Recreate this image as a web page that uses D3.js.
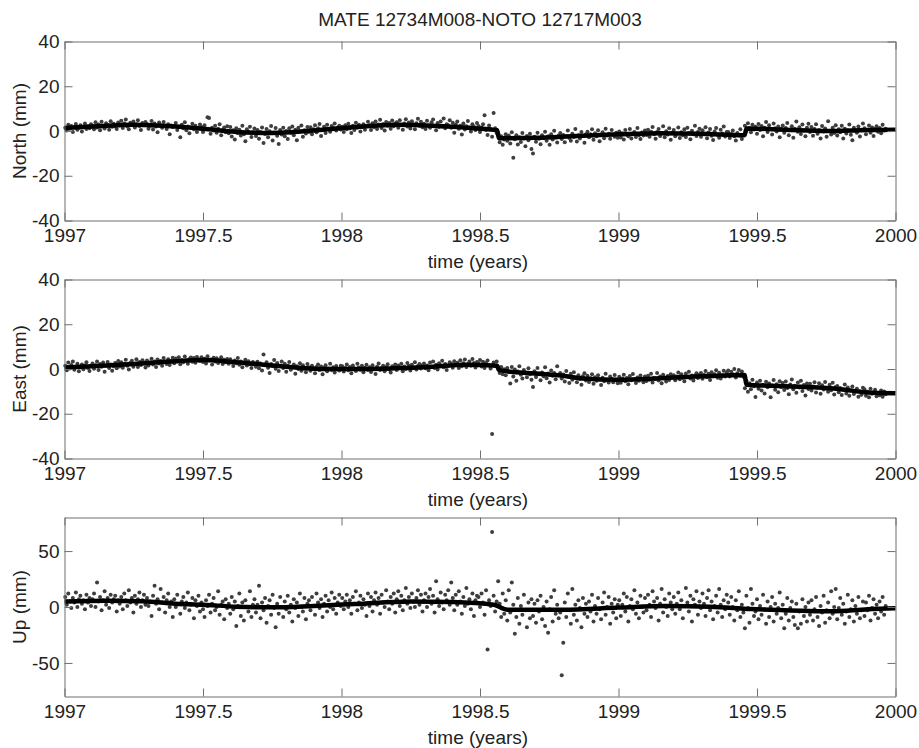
<!DOCTYPE html>
<html>
<head>
<meta charset="utf-8">
<script src="https://cdn.jsdelivr.net/npm/d3@7"></script>
<style>
  body { margin: 0; background: #fff; }
  svg { display: block; font-family: "Liberation Sans", Arial, sans-serif; }
</style>
</head>
<body>
<div id="chart"></div>
<script>
// ---- data (mm), one value every second day; null = no solution ----
const years = [1997, 1998, 1999];

const north1997 = [
  1.5, 0.2, 2.8, 1.0, 2.2, -0.5, 1.8, 3.1, 0.6, 1.4, 2.6, -0.2, 1.9, 3.4, 0.9, 2.1, 1.2, 3.0,
  2.4, 0.8, 3.9, 1.6, 2.9, 0.3, 4.1, 2.2, 1.1, 3.5, 2.7, 0.6, 4.4, 1.9, 3.2, 2.0, 0.9, 3.8,
  2.5, 4.6, 1.3, 3.3, 5.1, 2.0, 0.8, 3.7, 2.9, 4.2, 1.6, 3.0, 4.8, 2.2, 0.5, 3.6, 2.7, 4.0,
  3.1, 1.0, 2.4, 4.5, 0.7, 3.3, 2.0, -0.6, 3.8, 2.6, 1.4, 4.0, 2.2, 0.9, 3.0, -1.5, 2.5, 1.8,
  2.2, 3.6, 0.5, 1.9, -2.8, 2.8, 1.2, 3.9, 0.3, 2.0, -1.0, 1.5, 3.2, 0.8, 2.4, -0.4, 1.1, 2.9,
  1.8, -0.5, 2.6, 0.9, 6.2, 5.8, -1.2, 1.5, 0.2, 2.3, -0.8, 1.0, 3.0, -1.9, 0.4, 1.6, -0.6, 2.1,
  -1.0, 1.8, -2.5, 0.3, -3.8, 1.2, -0.9, 0.6, -2.0, 2.4, -1.4, -4.6, 0.8, -0.3, 1.9, -2.7, -0.6, 1.1,
  -2.2, 0.5, -3.5, -0.4, 1.6, -5.4, -1.3, 0.9, -2.8, -0.1, 2.2, -4.2, -0.7, 1.3, -2.1, -5.8, 0.4, -1.6,
  1.5, -2.4, 0.0, -3.6, 1.2, -0.8, 2.0, -1.9, 0.6, -4.1, 1.4, -0.2, 2.5, -2.6, 0.3, -1.1, 1.8, -0.5,
  1.7, -1.5, 0.8, 2.6, -0.6, 1.2, 3.1, -2.2, 0.5, 1.9, -0.9, 2.8, 0.9, -0.3, 2.2, 1.4, 3.3, 0.2, 1.6, 2.4, 0.7
];
const north1998 = [
  1.9, -0.4, 2.6, 0.8, 3.2, 1.1, -0.9, 2.3, 0.5, 3.7, 1.4, 2.8, -0.2, 1.8, 3.0, 0.6, 2.2, 4.1,
  2.6, 0.4, 3.5, 1.7, 4.3, 0.9, 2.9, 5.0, 1.3, 3.1, 0.2, 4.0, 2.4, 3.6, 1.0, 4.7, 2.1, 3.3,
  3.9, 1.5, 4.8, 2.7, 0.6, 3.4, 5.2, 2.0, 3.8, 1.1, 4.4, 2.9, 0.8, 3.5, 5.5, 2.3, 4.1, 1.7,
  3.2, 0.9, 4.6, 2.5, 1.4, 3.9, 5.1, 2.2, 0.3, 3.6, 1.8, 4.3, 2.0, 5.6, 1.2, 3.0, 2.6, 4.8,
  1.5, 3.7, -0.8, 2.9, 4.2, 1.0, 2.4, -1.6, 3.4, 0.7, 2.1, 4.5, 1.6, -0.2, 3.0, 1.9, 0.4, 3.6,
  2.2, -0.5, 1.6, 3.0, 7.0, 0.4, -1.8, 2.5, 0.9, -2.6, 8.0, 1.2, -0.9, -1.0, -5.0, -2.4, -6.2, -3.8,
  -1.5, -4.4, -2.0, -5.6, -0.6, -12.0, -3.7, -1.9, -6.0, -2.8, -4.9, -0.9, -3.3, -6.8, -2.2, -4.1, -1.2, -8.0,
  -10.0, -2.6, -4.8, -0.8, -3.5, -5.9, -1.9, -3.1, -0.3, -4.4, -2.4, -6.2, -1.5, -3.8, 0.1, -2.9, -5.1, -2.0,
  -0.9, -3.6, -1.8, -5.0, -2.4, 0.2, -3.1, -4.4, -1.2, -2.7, 0.9, -4.7, -1.9, -3.3, -0.5, -2.2, -5.3, -1.4,
  -0.3, -2.8, -1.5, 0.8, -3.9, -1.0, -2.3, 0.3, -4.6, -1.8, -0.6, -3.2, 1.0, -2.0, -1.2, -3.5, 0.4, -1.7, -2.6, -0.8, -3.0
];
const north1999 = [
  -0.2, -2.9, -1.0, -3.8, 0.5, -1.6, -2.4, 0.9, -3.3, -1.1, -0.4, -2.7, 1.3, -1.9, -3.6, -0.7, -2.0, 0.2,
  -1.8, 0.6, -2.6, -0.3, 1.8, -1.4, -3.5, -0.5, 0.9, -2.2, -1.0, 2.1, -2.8, -0.1, -1.6, 1.2, -3.9, -0.8,
  0.4, -2.4, -1.2, 1.6, -3.1, -0.6, -1.9, 0.8, -2.7, 1.4, -0.9, -3.7, 0.1, -1.5, 2.4, -2.2, -0.4, 1.0,
  -2.6, 0.3, -1.4, 1.7, -3.2, -0.7, 0.9, -2.1, -4.0, -0.2, 1.3, -1.8, -3.0, 0.6, -1.1, 2.0, -2.5, -0.5,
  -0.4, -3.1, -1.3, 0.2, -2.4, -4.3, -0.9, -2.0, 0.8, -3.6, -1.7, 2.4, 0.1, 3.5, 1.3, -0.6, 2.8, 0.7,
  1.9, -1.2, 3.1, 0.4, 2.2, -2.3, 1.5, 4.0, -0.4, 2.6, 0.9, -1.6, 3.4, 1.2, -0.2, 2.0, -2.8, 1.0,
  2.5, -0.8, 1.3, 3.6, -1.9, 0.6, 2.1, -3.0, 1.0, 4.3, -0.3, 1.7, -1.3, 2.9, 0.2, -2.4, 1.5, 3.2,
  -0.5, 1.8, -2.1, 0.9, 3.0, -1.2, 0.4, -3.3, 2.2, -0.2, 1.1, -2.6, 4.4, 0.0, -1.6, 1.4, -0.9, 2.6,
  -2.0, 0.8, -0.6, 2.3, -3.4, 1.0, -1.1, 0.3, 2.9, -1.7, -4.1, 1.5, 0.1, -0.8, 2.0, -2.5, 0.6, 3.3,
  1.2, -1.4, 0.4, 2.5, -0.8, 1.6, -2.2, 0.9, 2.1, -0.3, 1.3, -1.0, 2.8, 0.2, 1.0, null, null, null, null, null, null
];

const east1997 = [
  1.5, -0.6, 2.9, 0.2, 1.8, 3.3, -0.3, 1.0, 2.4, -1.0, 0.8, 2.0, -0.1, 1.6, 3.0, 0.4, -0.9, 1.3,
  2.5, 0.1, 1.7, 3.4, -0.5, 2.2, 1.0, 2.9, -1.2, 1.4, 3.1, 0.5, 2.0, -0.8, 1.2, 2.7, 0.3, 3.6,
  1.1, 3.0, 0.6, 2.4, 4.1, 1.5, -0.2, 2.8, 3.7, 1.0, 2.2, 4.4, 0.9, 3.1, 1.8, 3.9, 2.6, 0.7,
  3.8, 1.6, 2.9, 4.6, 2.0, 3.3, 0.9, 4.2, 2.5, 3.6, 1.4, 4.9, 3.0, 2.2, 4.4, 1.8, 3.5, 5.0,
  2.6, 4.7, 3.4, 5.3, 2.1, 4.0, 3.0, 5.6, 3.8, 2.4, 4.5, 5.1, 3.2, 4.9, 2.8, 5.4, 4.2, 3.6,
  5.2, 3.1, 4.6, 2.5, 5.7, 3.8, 4.3, 2.0, 5.0, 3.4, 4.8, 2.7, 3.9, 5.3, 2.2, 4.1, 3.0, 4.5,
  2.4, 4.4, 3.0, 1.3, 3.8, 2.6, 4.9, 1.9, 3.3, 0.8, 2.8, 4.1, 1.6, 3.5, 2.2, 0.5, 3.1, 2.0,
  1.0, 3.2, 0.3, 2.5, -0.7, 6.5, 1.8, 3.0, 0.6, -1.8, 2.2, 1.3, 4.0, 0.1, 2.7, -0.9, 1.5, 3.4,
  0.4, 2.3, -1.2, 1.5, 3.1, -0.3, 0.9, 2.0, -2.1, 1.2, 0.0, 2.6, -0.8, 1.7, 0.5, -1.5, 2.2, 0.8,
  -0.8, 1.4, 0.3, -1.9, 0.9, 2.0, -0.5, 1.1, -2.3, 0.6, 1.7, -1.0, 0.2, 2.4, -0.4, 0.8, -1.6, 1.3, 0.0, -0.7, 1.5
];
const east1998 = [
  1.2, -1.1, 0.5, 2.0, -0.6, 0.9, -1.9, 1.6, 0.2, -0.9, 2.3, 0.7, -0.3, 1.4, -1.5, 0.6, 1.9, -0.4,
  0.8, -1.3, 1.7, 0.1, -2.2, 1.0, 2.5, -0.5, 0.4, 1.5, -1.0, 0.9, 2.1, -0.2, -1.6, 1.2, 0.3, 2.0,
  -0.4, 1.6, 0.5, 2.4, -1.0, 1.1, 0.0, 2.7, 1.4, -0.7, 1.9, 0.6, 3.0, -0.2, 1.3, 2.2, 0.2, 1.7,
  2.5, 0.3, 1.6, -0.6, 2.9, 1.0, 3.3, 0.5, 1.9, -0.2, 2.6, 1.3, 3.7, 0.8, 2.2, -0.4, 1.5, 3.0,
  2.3, 0.6, 3.5, 1.8, 2.8, 0.4, 3.9, 1.2, 2.6, 4.2, 0.9, 2.1, 3.3, 1.5, 4.5, 2.7, 0.7, 3.1,
  2.4, 4.0, 1.1, 3.2, 0.5, 2.7, 3.8, 1.6, 0.2, -29.0, 2.9, 1.3, 3.4, 0.6, -1.8, 0.9, -2.4, -0.1,
  -2.8, 0.4, -1.5, -6.5, 0.9, -3.4, -0.2, -5.2, -1.1, 1.2, -2.6, -4.3, -0.5, -1.9, -3.7, 0.3, -2.3, -4.8,
  -8.0, -1.0, -3.6, 0.5, -2.4, -5.0, -1.6, -3.2, 0.8, -4.1, -2.0, -6.0, -0.7, -3.0, -1.8, -4.6, 1.2, -2.9,
  -1.8, -4.2, -2.5, -5.6, -0.9, -3.4, -6.3, -2.1, -4.8, -1.4, -3.9, -5.9, -2.8, -4.5, -7.0, -3.2, -1.9, -5.1,
  -3.0, -5.8, -4.1, -2.4, -6.6, -3.7, -5.2, -2.8, -4.6, -7.1, -3.9, -5.5, -2.1, -4.8, -6.0, -3.4, -4.4, -5.9, -2.7, -4.9, -6.4
];
const east1999 = [
  -3.5, -6.1, -4.3, -2.6, -5.5, -4.0, -6.8, -3.1, -5.0, -2.2, -4.6, -6.3, -3.8, -5.2, -2.9, -4.4, -5.9, -3.3,
  -5.4, -3.0, -4.8, -2.1, -6.0, -3.9, -4.5, -1.8, -5.1, -3.4, -6.4, -2.6, -4.2, -5.6, -3.1, -4.9, -2.3, -3.7,
  -2.8, -5.0, -3.3, -1.6, -4.6, -2.4, -3.9, -5.5, -2.0, -3.6, -1.2, -4.3, -2.9, -5.1, -3.0, -1.9, -4.0, -2.5,
  -1.8, -4.4, -2.6, -0.9, -3.7, -2.1, -4.9, -1.4, -3.2, -2.3, -0.6, -3.9, -1.7, -4.2, -2.8, -0.8, -3.4, -1.5,
  -0.7, -3.3, -1.2, -2.4, 0.0, -3.8, -1.9, -0.4, -2.9, -1.1, -3.5, -8.6, -5.3, -10.2, -6.4, -9.1, -4.8, -7.7,
  -12.5, -6.0, -8.8, -5.2, -9.6, -7.0, -11.0, -5.7, -8.2, -6.5, -12.6, -7.4, -4.9, -9.3, -6.8, -10.4, -5.5, -8.0,
  -6.3, -9.4, -5.6, -8.5, -11.3, -6.9, -4.7, -9.0, -7.5, -10.6, -6.0, -8.3, -5.3, -9.8, -7.1, -11.8, -6.5, -8.9,
  -6.6, -9.6, -7.8, -5.9, -10.5, -8.3, -6.4, -11.1, -7.3, -9.2, -5.8, -8.8, -10.2, -7.0, -9.5, -6.2, -11.4, -8.1,
  -7.6, -10.4, -8.5, -11.6, -9.2, -6.9, -10.9, -8.3, -12.0, -9.6, -7.8, -11.2, -10.0, -8.8, -12.4, -9.9, -11.5, -8.4,
  -9.0, -11.9, -10.2, -12.6, -8.8, -11.1, -10.5, -9.3, -12.2, -10.8, -11.7, -9.6, -12.4, -10.1, -11.3, null, null, null, null, null, null
];

const up1997 = [
  9, 2, 12, 5, -1, 8, 4, 13, 0, 7, 10, 3, 6, -2, 11, 4, 8, 1,
  7, 12, 0, 22, 5, 9, -3, 6, 14, 2, 8, -1, 11, 4, 7, 10, -4, 6,
  3, 9, -2, 12, 6, 1, 15, 4, 8, -5, 10, 3, 7, 13, 0, 6, 11, 2,
  8, 1, 5, -8, 10, 19, 3, 7, -2, 16, 4, 9, -5, 6, 12, 0, 5, -9,
  7, 0, 11, 3, -6, 5, 9, -1, 4, 13, -3, 2, 8, -10, 6, 1, 10, -4,
  4, -2, -9, 6, 1, 11, -5, 3, 8, -3, 0, 14, -7, 2, 5, -11, 7, -1,
  3, -6, 9, -2, 5, -17, 1, 12, -8, 4, -12, 6, 0, -4, 14, -9, 2, 7,
  -5, 2, 19, -10, 4, -3, 8, -14, 1, 6, -7, 11, -1, -18, 3, -6, 9, 0,
  -9, 5, -2, 10, -5, 2, -13, 7, -1, 4, -8, 12, 0, -4, 8, -11, 3, 6,
  -3, 9, 1, -7, 12, 4, -1, 7, -9, 3, 10, -4, 6, 0, 13, -2, 8, -6, 4, 11, 1
];
const up1998 = [
  8, -2, 5, 11, 0, 6, -6, 9, 3, 14, -3, 4, 10, -1, 7, 2, -8, 12,
  1, 9, -4, 6, 13, 2, 8, -6, 11, 4, 0, 15, 5, -2, 9, 3, 12, -5,
  7, 14, 1, 10, -3, 6, 17, 3, 9, -1, 12, 5, 0, 8, 15, 2, 11, -4,
  6, 12, 0, 9, 16, 3, 10, -5, 23, 7, 1, 13, 4, -2, 11, 6, 15, 2,
  22, 8, -3, 11, 2, 14, 5, -6, 9, 1, 17, 3, 7, -2, 12, -8, 6, 10,
  9, 0, 12, 4, -7, 15, -38, 6, 1, 67, 10, -4, 5, 23, 3, -9, 12, -6,
  6, -12, 15, -5, 22, 2, -24, -9, 8, -15, 1, -7, 11, -3, -18, 4, -10, 7,
  -8, 3, -14, 6, -4, 10, -11, 0, -17, 5, -23, -2, 9, -13, 15, -6, 2, -10,
  -5, -61, -32, 4, -9, 12, -3, -15, 16, -7, 2, -12, 6, -1, -18, 8, -6, 3,
  -9, 5, -4, 11, -13, 1, -6, 8, -2, -11, 4, 13, -7, 0, 9, -15, 3, -5, 7, -10, 2
];
const up1999 = [
  6, -8, 2, 12, -4, 9, -13, 1, 7, -2, 15, -6, 4, -10, 10, 0, -5, 8,
  -3, 11, 2, -9, 14, 5, -1, 8, -12, 3, 16, -5, 7, 0, -8, 12, 4, -2,
  9, -6, 3, 13, -2, 6, -10, 1, 17, 4, -4, 10, -13, 7, 2, 14, -7, 5,
  -1, 12, 3, -8, 8, 15, -3, 5, -11, 1, 10, -5, 16, 2, -9, 6, -2, 11,
  4, -7, 9, 0, -12, 6, -3, 14, -9, 2, -5, -19, 10, -1, -14, 16, 3, -8,
  -4, 7, -11, 1, -7, 11, -2, -15, 5, -9, 0, 9, -13, 3, -6, -1, 13, -10,
  2, -19, -6, 8, -12, -1, 5, -9, -16, 3, -19, -4, -15, 7, -8, 0, -13, 4,
  -7, 6, -12, -2, 9, -9, -17, 1, -5, 10, -14, -3, 4, -10, 14, -6, 0, 16,
  -11, -1, 8, -7, 3, -15, -4, 11, -9, -2, 6, -13, 1, -6, 9, -10, -3, 5,
  -8, 4, -3, 10, -12, -1, 7, -6, 2, -10, 5, -4, 9, -7, 1, null, null, null, null, null, null
];

// fitted model (thick line), knots
const northFitYears = [1997.0, 1997.1, 1997.25, 1997.4, 1997.5, 1997.62, 1997.75, 1997.9, 1998.05, 1998.2, 1998.35, 1998.48, 1998.562, 1998.568, 1998.7, 1998.85, 1999.0, 1999.15, 1999.3, 1999.455, 1999.462, 1999.6, 1999.75, 1999.9, 2000.0];
const northFit = [1.3, 2.0, 2.8, 2.0, 1.0, -0.4, -0.9, 0.2, 1.8, 2.8, 2.2, 1.2, 0.3, -3.2, -3.0, -2.2, -1.5, -1.0, -1.2, -1.9, 1.1, 0.6, 0.0, 0.4, 0.6];
const eastFitYears = [1997.0, 1997.1, 1997.25, 1997.4, 1997.5, 1997.62, 1997.8, 1997.92, 1998.1, 1998.25, 1998.33, 1998.45, 1998.562, 1998.568, 1998.7, 1998.8, 1998.87, 1999.0, 1999.17, 1999.36, 1999.455, 1999.462, 1999.66, 1999.8, 1999.9, 2000.0];
const eastFit = [0.7, 1.2, 2.2, 3.5, 4.0, 3.0, 1.0, 0.0, 0.0, 0.6, 1.0, 1.9, 1.5, -0.5, -2.0, -3.0, -4.2, -4.8, -4.0, -3.0, -2.7, -7.0, -7.9, -9.0, -10.5, -10.8];
const upFitYears = [1997.0, 1997.15, 1997.28, 1997.4, 1997.5, 1997.62, 1997.75, 1997.9, 1998.05, 1998.25, 1998.4, 1998.55, 1998.6, 1998.8, 1999.0, 1999.17, 1999.33, 1999.48, 1999.66, 1999.77, 1999.9, 2000.0];
const upFit = [5.0, 5.6, 5.2, 3.0, 2.0, 0.3, -0.3, 1.0, 2.7, 5.0, 4.5, 2.0, -2.4, -2.4, -0.5, 1.0, 0.3, -1.8, -3.3, -3.9, -2.0, -1.2];

const xTicks = [1997, 1997.5, 1998, 1998.5, 1999, 1999.5, 2000];
const title = "MATE 12734M008-NOTO 12717M003";

const panels = [
  {label: "North (mm)", domain: [-40, 40], ticks: [-40, -20, 0, 20, 40],
   daily: [north1997, north1998, north1999], fitT: northFitYears, fitV: northFit},
  {label: "East (mm)", domain: [-40, 40], ticks: [-40, -20, 0, 20, 40],
   daily: [east1997, east1998, east1999], fitT: eastFitYears, fitV: eastFit},
  {label: "Up (mm)", domain: [-80, 80], ticks: [-50, 0, 50],
   daily: [up1997, up1998, up1999], fitT: upFitYears, fitV: upFit}
];

// ---- layout ----
const W = 919, H = 748;
const left = 64.5, right = 895.5;
const tops = [41.5, 279.5, 517.5];
const ph = 179;
const axisColor = "#6f6f6f", textColor = "#222";

const svg = d3.select("#chart").append("svg")
  .attr("width", W).attr("height", H);
svg.append("rect").attr("width", W).attr("height", H).attr("fill", "#fff");

const x = d3.scaleLinear().domain([1997, 2000]).range([left, right]);

svg.append("text")
  .attr("x", (left + right) / 2).attr("y", 26)
  .attr("text-anchor", "middle")
  .attr("fill", textColor).style("font-size", "19px")
  .text(title);

panels.forEach((p, k) => {
  const top = tops[k], bottom = top + ph;
  const y = d3.scaleLinear().domain(p.domain).range([bottom, top]);
  const g = svg.append("g");

  // daily solutions
  const pts = [];
  p.daily.forEach((vals, j) => {
    vals.forEach((v, i) => {
      if (v !== null) pts.push({t: years[j] + (i + 0.5) / vals.length, v: v});
    });
  });
  g.append("g").selectAll("circle")
    .data(pts)
    .join("circle")
    .attr("cx", d => x(d.t))
    .attr("cy", d => y(d.v))
    .attr("r", 2)
    .attr("fill", "#3e3e3e");

  // fitted model
  const fit = p.fitT.map((t, i) => ({t: t, v: p.fitV[i]}));
  g.append("path")
    .datum(fit)
    .attr("fill", "none")
    .attr("stroke", "#000")
    .attr("stroke-width", 4.5)
    .attr("stroke-linejoin", "round")
    .attr("d", d3.line().x(d => x(d.t)).y(d => y(d.v)).curve(d3.curveMonotoneX));

  // axes box with inward ticks (matlab style)
  const styleAxis = sel => {
    sel.selectAll(".domain").attr("stroke", axisColor);
    sel.selectAll(".tick line").attr("stroke", axisColor);
    sel.selectAll(".tick text").attr("fill", textColor).style("font-size", "19px");
  };
  g.append("g").attr("transform", `translate(0,${bottom})`)
    .call(d3.axisBottom(x).tickValues(xTicks).tickFormat(d => String(d))
      .tickSize(-8).tickSizeOuter(0).tickPadding(8))
    .call(styleAxis);
  g.append("g").attr("transform", `translate(0,${top})`)
    .call(d3.axisTop(x).tickValues(xTicks).tickFormat("").tickSize(-8).tickSizeOuter(0))
    .call(styleAxis);
  g.append("g").attr("transform", `translate(${left},0)`)
    .call(d3.axisLeft(y).tickValues(p.ticks).tickFormat(d => String(d))
      .tickSize(-8).tickSizeOuter(0).tickPadding(5))
    .call(styleAxis);
  g.append("g").attr("transform", `translate(${right},0)`)
    .call(d3.axisRight(y).tickValues(p.ticks).tickFormat("").tickSize(-8).tickSizeOuter(0))
    .call(styleAxis);
  // let tick labels use the svg font
  svg.selectAll("g[font-family]").attr("font-family", null).attr("font-size", null);

  // labels
  g.append("text")
    .attr("transform", `translate(26,${(top + bottom) / 2}) rotate(-90)`)
    .attr("text-anchor", "middle")
    .attr("fill", textColor).style("font-size", "19px")
    .text(p.label);
  g.append("text")
    .attr("x", (left + right) / 2 - 2).attr("y", bottom + 47)
    .attr("text-anchor", "middle")
    .attr("fill", textColor).style("font-size", "19px")
    .text("time (years)");
});
</script>
</body>
</html>
